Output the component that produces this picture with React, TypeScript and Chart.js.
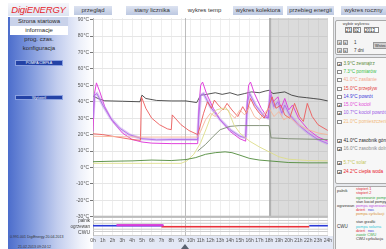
import React, { useEffect, useRef } from 'react';
import { Chart, registerables } from 'chart.js';
Chart.register(...registerables);

type Pt = [number, number];

// ---- axis ticks ----
const hourTicks = [0, 1, 2, 3, 4, 5, 6, 7, 8, 9, 10, 11, 12, 13, 14, 15, 16, 17, 18, 19, 20, 21, 22, 23, 24];
const tempTicks = [-30, -20, -10, 0, 10, 20, 30, 40, 50, 60, 70, 80, 90];

// ---- series (hour, °C) ----
const zasobnikGorny: Pt[] = [[0, 43.5], [0.5, 42], [1.2, 40.6], [3, 40.3], [4.8, 40], [5, 44], [5.4, 42], [6.5, 40.8], [8, 40.5], [9.5, 40.5], [10.6, 39.5], [11, 44], [11.6, 44.5], [12.5, 45.5], [13.2, 44.5], [14, 45.5], [14.8, 44], [15.5, 45], [16.2, 46], [17, 45.5], [17.6, 46.5], [18, 47], [18.4, 45], [19, 45.5], [19.6, 46], [20.3, 44], [21, 43], [21.8, 42.5], [22.5, 42], [23.2, 41.5], [24, 40.5]];
const zewnatrz: Pt[] = [[0, 3.5], [2, 3.8], [4, 4], [6, 4.5], [8, 4.2], [9.5, 4.8], [10.5, 6], [11.5, 8], [12.5, 9], [13.5, 9.5], [14.2, 9], [15, 7.5], [16, 5.5], [17, 4.5], [18, 4], [19, 3.5], [20, 3], [22, 2.8], [24, 2.8]];
const solar: Pt[] = [[0, 2.5], [9, 2.5], [9.6, 4], [10.3, 8], [11, 15], [11.6, 24], [12.1, 32], [12.6, 35], [13.2, 36], [13.8, 35], [14.4, 26], [15, 21], [16, 16], [17, 12.5], [18, 9.5], [19, 6.5], [20, 5], [22, 4.2], [24, 4]];
const zasobnikDolny: Pt[] = [[10.7, 10], [11.5, 14], [12.3, 19], [13, 23], [14, 25], [15, 25.5], [17, 25.5], [18, 25.5], [18.2, 18], [20, 17.5], [24, 17]];
const cieplaWoda: Pt[] = [[0, 20.5], [1, 20], [2, 19], [3, 18], [4, 17], [4.85, 16.5], [4.95, 43], [5.4, 36], [6, 30], [6.8, 26], [7.6, 23.5], [8, 23], [8.1, 32], [8.4, 30], [9, 26], [9.8, 22.5], [10.7, 20], [10.9, 24], [11.3, 33], [11.7, 40], [12.1, 36], [12.4, 41], [12.8, 38], [13.3, 35], [13.7, 39], [14.2, 35], [14.8, 31], [15.3, 37], [15.7, 33], [16.1, 42], [16.5, 37], [17, 33], [17.5, 30], [17.9, 36], [18.3, 43], [18.7, 36], [19.2, 38], [19.6, 32], [20.1, 30], [20.6, 39], [21.1, 31], [21.5, 28], [21.9, 39], [22.4, 31], [23, 26], [24, 22.5]];
const zasilanie: Pt[] = [[0, 19], [4.9, 18.5], [10.7, 18.5], [11, 22], [11.5, 29], [12, 33], [12.5, 31], [13, 34], [13.5, 37], [14, 33], [14.5, 30], [15, 35], [15.5, 32], [16, 37], [16.5, 31], [17, 29], [17.5, 33], [18, 36], [18.5, 31], [19, 34], [19.5, 29], [20, 31], [21, 26], [22, 23], [23, 21], [24, 20]];
const kociol: Pt[] = [[0, 22], [0.15, 45], [0.35, 51.5], [0.7, 46], [1.2, 37], [2, 28], [3, 21], [4, 17], [5, 15.5], [6, 14.8], [8, 14.5], [10.7, 14.5], [10.8, 35], [11, 50], [11.2, 52], [11.6, 45], [12.3, 36], [13, 29], [14, 22], [15, 17.5], [15.6, 16], [15.7, 35], [15.9, 50], [16.1, 52], [16.5, 45], [17.2, 36], [17.9, 30], [18.1, 47], [18.4, 40], [18.9, 43], [19.2, 36], [19.6, 42], [20, 35], [20.4, 38], [21, 30], [22, 23], [23, 18.5], [24, 16]];
const kociolPowrot: Pt[] = [[0, 30], [0.15, 44], [0.4, 45], [1, 38], [1.8, 30], [2.7, 24], [3.7, 20], [5, 17.5], [6.5, 16.8], [8, 17], [10.7, 17], [10.8, 30], [11, 44], [11.3, 45], [12, 37], [13, 29], [14, 23], [15, 19], [15.6, 18], [15.8, 40], [16, 45], [16.6, 38], [17.5, 31], [17.9, 30], [18.1, 44], [18.5, 37], [18.9, 40], [19.3, 33], [19.6, 38], [20.1, 32], [21, 26], [22, 21], [23, 17], [24, 14.5]];

// ---- status rows (hour ranges) ----
const rowSeparators = [-30, -32.3, -34.0, -37.6, -39.0];
const ogrzewanieRowValue = -35.6;
const pompaNoc: Pt[] = [[0, 7.2], [22.1, 24]];
const pompaKociol: Pt[] = [[2.4, 7.2]];
const pompaDzien: Pt[] = [[7.0, 22.1]];
const shadedHours: Pt = [18, 24];
const cursorHour = 9.4;

// ---- legend ----
const legendLabels = ['3.9°C zewnątrz', '7.3°C pomiarów', '41.0°C zasilanie', '15.0°C przepływ', '14.9°C powrót', '15.0°C kocioł', '10.7°C kocioł powrót', '21.0°C pomieszczenie', '41.0°C zasobnik górny', '16.0°C zasobnik dolny', '5.7°C solar', '24.2°C ciepła woda'];
const legendColors = ['#5a8a3a', '#3cc04a', '#f3a58a', '#e23a3a', '#3a3ad8', '#e24ad8', '#9a58e6', '#f2b878', '#222222', '#8a8a8a', '#c6c65a', '#e8202a'];
const legendChecked = [true, false, false, false, false, true, true, false, true, true, true, true];
const legendTops = [64, 72, 80, 89, 97, 105, 113, 122, 141, 149, 163, 172];

const tabs = ['przegląd', 'stany licznika', 'wykres temp', 'wykres kolektora', 'przebieg energii', 'wykres roczny'];
const tabLefts = [74, 126, 182, 233, 287, 341];
const tabWidths = [38, 52, 45, 50, 47, 45];

const menu = ['Strona startowa', 'informacje', 'prog. czas.', 'konfiguracja'];

const F = "'Liberation Sans', Arial, sans-serif";

function ChartCanvas() {
  const ref = useRef<HTMLCanvasElement>(null);
  useEffect(() => {
    const canvas = ref.current!;
    const ds = (label: string, pts: Pt[], color: string, width: number) => ({
      label,
      data: pts.map(([x, y]) => ({ x, y })),
      borderColor: color,
      borderWidth: width,
      pointRadius: 0,
      tension: 0,
      fill: false,
    });
    const decor = {
      id: 'decor',
      beforeDraw(c: any) {
        const { ctx, chartArea: a } = c;
        ctx.save();
        ctx.fillStyle = '#ffffff';
        ctx.fillRect(a.left, a.top, a.right - a.left, a.bottom - a.top);
        ctx.restore();
      },
      beforeDatasetsDraw(c: any) {
        const { ctx, chartArea: a, scales } = c;
        const x0 = scales.x.getPixelForValue(shadedHours[0]);
        const x1 = scales.x.getPixelForValue(shadedHours[1]);
        const yb = scales.y.getPixelForValue(-30);
        ctx.save();
        ctx.fillStyle = 'rgba(170,170,170,0.42)';
        ctx.fillRect(x0, a.top, x1 - x0, yb - a.top);
        ctx.fillStyle = 'rgba(150,150,150,0.6)';
        ctx.fillRect(x0, a.top, 2, yb - a.top);
        const xc = scales.x.getPixelForValue(cursorHour);
        ctx.fillStyle = 'rgba(160,160,160,0.7)';
        ctx.fillRect(xc, a.top, 1, a.bottom - a.top);
        ctx.restore();
      },
      afterDatasetsDraw(c: any) {
        const { ctx, chartArea: a, scales } = c;
        ctx.save();
        rowSeparators.forEach((v, i) => {
          const y = scales.y.getPixelForValue(v);
          ctx.fillStyle = i === 0 ? '#bdbdbd' : '#cfcfcf';
          ctx.fillRect(a.left, y - (i === 0 ? 1 : 0.5), a.right - a.left, i === 0 ? 2.2 : 1);
        });
        const yr = scales.y.getPixelForValue(ogrzewanieRowValue);
        const bar = (ranges: Pt[], color: string, dy: number, h: number) => {
          ctx.fillStyle = color;
          ranges.forEach(([s, e]) => {
            const xs = scales.x.getPixelForValue(s);
            const xe = scales.x.getPixelForValue(e);
            ctx.fillRect(xs, yr + dy, xe - xs, h);
          });
        };
        bar(pompaNoc, '#2a3ad8', -1, 1.6);
        bar(pompaDzien, '#e8323a', 0, 1.6);
        bar(pompaKociol, '#d63ad8', -1.8, 2.2);
        const xc = scales.x.getPixelForValue(cursorHour);
        ctx.fillStyle = '#5a6270';
        ctx.beginPath();
        ctx.moveTo(xc - 4, c.height);
        ctx.lineTo(xc + 4, c.height);
        ctx.lineTo(xc, c.height - 5);
        ctx.closePath();
        ctx.fill();
        ctx.restore();
      },
    };
    const chart = new Chart(canvas, {
      type: 'line',
      data: {
        datasets: [
          ds('zewnątrz', zewnatrz, '#4f8a3a', 0.9),
          ds('solar', solar, '#dede8a', 0.9),
          ds('zasobnik dolny', zasobnikDolny, '#7a8a70', 0.9),
          ds('zasilanie', zasilanie, '#f6b49a', 0.9),
          ds('ciepła woda', cieplaWoda, '#ec5a5a', 0.9),
          ds('kocioł powrót halo', kociolPowrot, 'rgba(195,150,238,0.5)', 3),
          ds('kocioł powrót', kociolPowrot, '#9a48e0', 0.9),
          ds('kocioł', kociol, '#e040dc', 1.0),
          ds('zasobnik górny', zasobnikGorny, '#2a2a2a', 0.8),
        ],
      },
      options: {
        animation: false,
        responsive: false,
        events: [],
        layout: { padding: 0 },
        plugins: { legend: { display: false }, tooltip: { enabled: false } },
        scales: {
          x: {
            type: 'linear',
            min: 0,
            max: 24,
            afterBuildTicks: (s: any) => { s.ticks = hourTicks.map((v) => ({ value: v })); },
            afterFit: (s: any) => { s.height = 13.4; },
            ticks: { callback: (v: any) => `${v}h`, font: { size: 5, family: F }, color: '#555', padding: 2, maxRotation: 0, autoSkip: false },
            grid: { color: '#eeeeee', drawTicks: false },
            border: { display: true, color: '#cfcfcf' },
          },
          y: {
            min: -41.5,
            max: 91,
            afterBuildTicks: (s: any) => { s.ticks = tempTicks.map((v) => ({ value: v })); },
            afterFit: (s: any) => { s.width = 23; },
            ticks: { callback: (v: any) => `${v}°C`, font: { size: 5, family: F }, color: '#555', padding: 1 },
            grid: { color: '#e6e6e6', tickLength: 3, tickColor: '#777' },
            border: { display: true, color: '#bbbbbb' },
          },
        },
      } as any,
      plugins: [decor],
    });
    return () => chart.destroy();
  }, []);
  return <canvas ref={ref} width={264} height={235} style={{ position: 'absolute', left: 70, top: 14, width: 264, height: 235 }} />;
}

const abs = (l: number, t: number, w?: number, h?: number): React.CSSProperties => ({ position: 'absolute', left: l, top: t, width: w, height: h });

export default function App() {
  return (
    <div style={{ position: 'fixed', left: 0, top: 0, width: 386, height: 249, overflow: 'hidden', background: '#fff', fontFamily: F }}>
      {/* sidebar gradient */}
      <div style={{ ...abs(8, 17, 85, 232), background: 'linear-gradient(to right, #4c6dcc 0%, #7c96dc 25%, #c2cdee 58%, #eef1fa 85%, #ffffff 100%)' }} />
      {/* x-label strip */}
      <div style={{ ...abs(93, 236, 240, 13), background: '#e3e8f5' }} />
      {/* logo */}
      <div style={{ ...abs(8, 3, 61, 13), background: 'linear-gradient(#f6f7fb, #dde3f1)', color: '#e6262c', fontStyle: 'italic', fontSize: 9.5, lineHeight: '13px', textAlign: 'center', letterSpacing: -0.2 }}>DigiENERGY</div>
      {/* tabs */}
      {tabs.map((t, i) => (
        <div key={t} style={{ ...abs(tabLefts[i], 6, tabWidths[i], 9), background: i === 2 ? '#ffffff' : 'linear-gradient(#dde3f1, #bcc8e1)', color: '#333', fontSize: 6, lineHeight: '9px', textAlign: 'center', whiteSpace: 'nowrap', overflow: 'hidden' }}>{t}</div>
      ))}
      {/* menu */}
      {menu.map((m, i) => (
        <div key={m} style={{ ...abs(10, 17 + i * 9, 58, 9), background: i === 0 ? '#c9d2ea' : i === 1 ? '#ffffff' : 'transparent', color: '#2a2a2a', fontSize: 6, lineHeight: '9px', textAlign: 'center' }}>{m}</div>
      ))}
      <div style={{ ...abs(15, 60, 48, 6), background: '#2342a6', border: '0.5px solid #8aa0e0', boxSizing: 'border-box', color: '#fff', fontSize: 3.6, lineHeight: '5px', textAlign: 'center' }}>POMPA CIEPŁA</div>
      <div style={{ ...abs(15, 95, 48, 5), background: '#2342a6', border: '0.5px solid #8aa0e0', boxSizing: 'border-box', color: '#fff', fontSize: 3.6, lineHeight: '4px', textAlign: 'center' }}>Wyświetl</div>
      <div style={{ ...abs(10, 235, 60, 5), fontSize: 3.6, color: '#333', whiteSpace: 'nowrap' }}>0.991.001 DigiEnergy 20.04.2013</div>
      <div style={{ ...abs(18, 245, 50, 5), fontSize: 3.6, color: '#333', whiteSpace: 'nowrap' }}>21.02.2013 09:24:12</div>

      <ChartCanvas />

      {/* status row labels */}
      <div style={{ ...abs(60, 218, 30, 5), fontSize: 4.5, color: '#444', textAlign: 'right', lineHeight: '5px' }}>palnik</div>
      <div style={{ ...abs(60, 224, 30, 5), fontSize: 4.5, color: '#444', textAlign: 'right', lineHeight: '5px' }}>ogrzewan</div>
      <div style={{ ...abs(60, 230, 30, 5), fontSize: 5, color: '#444', textAlign: 'right', lineHeight: '5px' }}>CWU</div>

      {/* right panel */}
      <div style={{ ...abs(333, 17, 53, 232), background: '#e7e9ed', borderLeft: '1px solid #b8b8b8' }} />
      <div style={{ ...abs(335, 20, 53, 35), background: '#f5f5f5', border: '1px solid #aaa', borderRadius: 2, boxSizing: 'border-box' }} />
      <div style={{ ...abs(340, 21, 32, 5), fontSize: 4, color: '#444', textAlign: 'center', lineHeight: '5px' }}>wybór wykresu</div>
      <div style={{ ...abs(345, 27, 7, 6), border: '0.5px solid #888', background: '#fff', fontSize: 4.5, lineHeight: '6px', color: '#222', boxSizing: 'border-box' }}>21</div>
      <div style={{ ...abs(353, 27, 8, 6), border: '0.5px solid #888', background: '#fff', fontSize: 4.5, lineHeight: '6px', color: '#222', boxSizing: 'border-box' }}>02</div>
      <div style={{ ...abs(364, 27, 15, 6), border: '0.5px solid #888', background: '#fff', fontSize: 4.5, lineHeight: '6px', color: '#222', boxSizing: 'border-box' }}>2013</div>
      {[[337, 40], [343, 40], [337, 48], [343, 48]].map(([l, t], i) => (
        <div key={i} style={{ ...abs(l, t, 5, 5), border: '0.5px solid #999', background: '#dcdcdc', boxSizing: 'border-box', fontSize: 3, lineHeight: '4px', textAlign: 'center', color: '#555' }}>{i % 2 === 0 ? '◄' : '►'}</div>
      ))}
      <div style={{ ...abs(354, 40, 10, 5), fontSize: 4.5, color: '#333', lineHeight: '5px' }}>1</div>
      <div style={{ ...abs(354, 48, 16, 5), fontSize: 4.5, color: '#333', lineHeight: '5px' }}>7 dni</div>
      <div style={{ ...abs(373, 42, 15, 7), border: '0.5px solid #999', background: '#cfcfcf', boxSizing: 'border-box', fontSize: 4, lineHeight: '6px', color: '#333', paddingLeft: 1 }}>Wstecz</div>

      <div style={{ ...abs(335, 57, 53, 127), background: '#f7f7f7', border: '1px solid #aaa', borderRadius: 2, boxSizing: 'border-box' }} />
      {legendLabels.map((l, i) => (
        <React.Fragment key={l}>
          <div style={{ ...abs(337, legendTops[i] - 2.5, 4.5, 4.5), border: '0.5px solid #888', background: '#fff', boxSizing: 'border-box', fontSize: 4, lineHeight: '4px', textAlign: 'center', color: '#222' }}>{legendChecked[i] ? '✔' : ''}</div>
          <div style={{ ...abs(343.5, legendTops[i] - 3, 50, 6), fontSize: 4.6, lineHeight: '6px', color: legendColors[i], whiteSpace: 'nowrap' }}>{l}</div>
        </React.Fragment>
      ))}

      <div style={{ ...abs(335, 186, 53, 65), background: '#f7f7f7', border: '1px solid #aaa', borderRadius: 2, boxSizing: 'border-box' }} />
      <div style={{ ...abs(337, 188, 16, 5), fontSize: 4, color: '#333', lineHeight: '5px' }}>palnik</div>
      <div style={{ ...abs(337, 203, 16, 5), fontSize: 4, color: '#333', lineHeight: '5px' }}>ogrzewan</div>
      <div style={{ ...abs(337, 224, 16, 5), fontSize: 4.5, color: '#333', lineHeight: '5px' }}>CWU</div>
      <div style={{ ...abs(356, 187, 30, 4), fontSize: 3.8, color: '#e0303a', lineHeight: '4px', whiteSpace: 'nowrap' }}>stopień 1</div>
      <div style={{ ...abs(356, 191, 30, 4), fontSize: 3.8, color: '#e0303a', lineHeight: '4px', whiteSpace: 'nowrap' }}>stopień 2</div>
      <div style={{ ...abs(356, 196, 34, 4), fontSize: 3.8, color: '#3aa84a', lineHeight: '4px', whiteSpace: 'nowrap' }}>ogrzewanie pompy</div>
      <div style={{ ...abs(356, 200, 34, 4), fontSize: 3.8, color: '#333', lineHeight: '4px', whiteSpace: 'nowrap' }}>stan kocioł pompy</div>
      <div style={{ ...abs(356, 204, 34, 4), fontSize: 3.8, color: '#c050e0', lineHeight: '4px', whiteSpace: 'nowrap' }}>pompa ogrzewania</div>
      <div style={{ ...abs(356, 208, 12, 4), fontSize: 3.8, color: '#e0303a', lineHeight: '4px' }}>dzień</div>
      <div style={{ ...abs(368, 208, 12, 4), fontSize: 3.8, color: '#3040d8', lineHeight: '4px' }}>noc</div>
      <div style={{ ...abs(356, 212, 34, 4), fontSize: 3.8, color: '#d8903a', lineHeight: '4px', whiteSpace: 'nowrap' }}>pompa cyrkulacji</div>
      <div style={{ ...abs(356, 220, 34, 4), fontSize: 3.8, color: '#333', lineHeight: '4px', whiteSpace: 'nowrap' }}>stan grzałki</div>
      <div style={{ ...abs(356, 225, 34, 4), fontSize: 3.8, color: '#30c8d8', lineHeight: '4px', whiteSpace: 'nowrap' }}>pompa solarna</div>
      <div style={{ ...abs(356, 229, 12, 4), fontSize: 3.8, color: '#e0303a', lineHeight: '4px' }}>dzień</div>
      <div style={{ ...abs(368, 229, 12, 4), fontSize: 3.8, color: '#3040d8', lineHeight: '4px' }}>noc</div>
      <div style={{ ...abs(356, 233, 34, 4), fontSize: 3.8, color: '#3aa84a', lineHeight: '4px', whiteSpace: 'nowrap' }}>zawór CWU</div>
      <div style={{ ...abs(356, 237, 34, 4), fontSize: 3.8, color: '#333', lineHeight: '4px', whiteSpace: 'nowrap' }}>CWU cyrkulacja</div>
    </div>
  );
}
